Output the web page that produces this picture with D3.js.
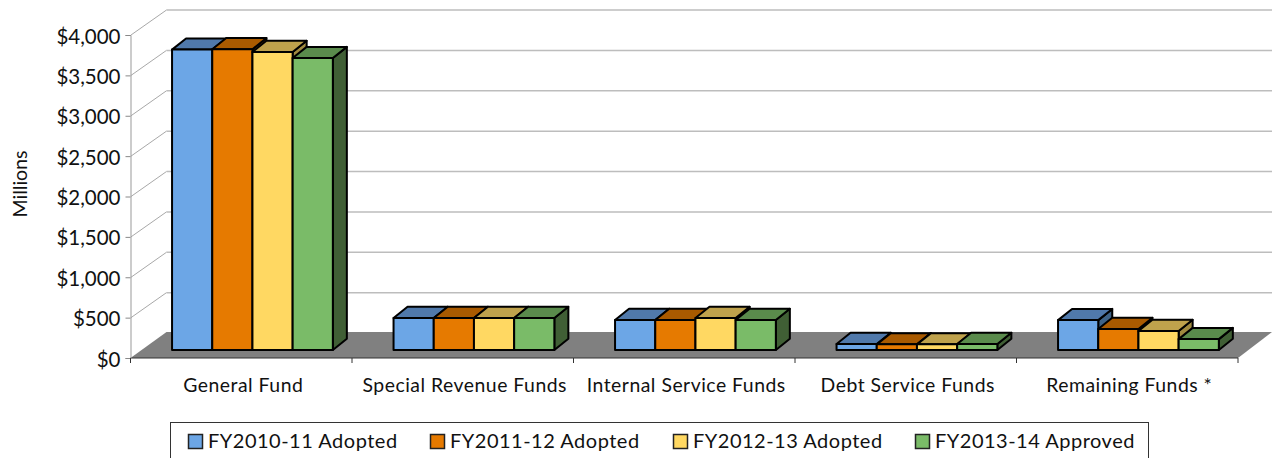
<!DOCTYPE html>
<html><head><meta charset="utf-8">
<script src="https://cdn.jsdelivr.net/npm/d3@7"></script>
<style>html,body{margin:0;background:#fff}svg{display:block}text{font-family:Lato,"Noto Sans",sans-serif;fill:#111}</style>
</head><body><svg id="c" width="1272" height="458"></svg>
<script>
const categories=["General Fund","Special Revenue Funds","Internal Service Funds","Debt Service Funds","Remaining Funds *"];
const seriesNames=["FY2010-11 Adopted","FY2011-12 Adopted","FY2012-13 Adopted","FY2013-14 Approved"];
const fy1011=[3720,396,372,75,370];
const fy1112=[3725,396,372,70,260];
const fy1213=[3690,396,396,70,235];
const fy1314=[3615,396,372,75,135];
const allSeries=[fy1011,fy1112,fy1213,fy1314];
const yTicks=[0,500,1000,1500,2000,2500,3000,3500,4000];
const frontColors=["#6ca6e6","#e67a00","#ffd862","#7abb68"];
const topColors=["#5079ab","#a95a00","#bfa24c","#5a8b4c"];
const sideColors=["#3f6387","#7f4400","#a08a3f","#405f35"];

const svg=d3.select("#c");
const y=d3.scaleLinear().domain([0,4000]).range([358,35]);
const x0=d3.scaleBand().domain(categories).range([130.5,1238]);
const wallDx=36,wallDy=-25;
const floorBackDy=-26;
const floorDx=11.2,floorDy=-8;
const barDx=14,barDy=-11.2;
const barW=40.2;
const x1=d3.scaleBand().domain(seriesNames).range([-2*barW,2*barW]);

// back wall gridlines and side wall diagonals
const grid=svg.append("g");
yTicks.filter(t=>t>0).forEach(t=>{
  grid.append("line").attr("x1",x0.range()[0]+0.5).attr("y1",y(t)).attr("x2",x0.range()[0]+wallDx).attr("y2",y(t)+wallDy).attr("stroke","#a8a8a8").attr("stroke-width",1);
  grid.append("line").attr("x1",x0.range()[0]+wallDx).attr("y1",y(t)+wallDy).attr("x2",1272).attr("y2",y(t)+wallDy).attr("stroke","#bdbdbd").attr("stroke-width",1.5);
});
// floor
const xl=x0.range()[0],xr=x0.range()[1],yb=y(0);
svg.append("path").attr("d",d3.line()([[xl,yb],[xl+wallDx,yb+floorBackDy],[1272,yb+floorBackDy],[xr,yb]])+"Z").attr("fill","#808080");
svg.append("line").attr("x1",xl).attr("x2",xr).attr("y1",yb).attr("y2",yb).attr("stroke","#333").attr("stroke-width",1.2);

// axes
const ay=d3.axisLeft(y).tickValues(yTicks).tickSize(5).tickPadding(5).tickFormat(d=>"$"+d3.format(",")(d));
const gy=svg.append("g").attr("transform",`translate(${xl},0)`).call(ay);
gy.select(".domain").attr("stroke","#999");
gy.selectAll(".tick line").attr("stroke","#888");
gy.selectAll("text").attr("font-size",20.5).attr("y",1.5).style("font-family","Lato,sans-serif").attr("fill","#111");

const ax=d3.axisBottom(x0).tickSize(0).tickPadding(20);
const gx=svg.append("g").attr("transform",`translate(0,${yb})`).call(ax);
gx.select(".domain").remove();
gx.selectAll("text").attr("font-size",19.4).style("font-family","Lato,sans-serif").attr("fill","#111").attr("dx",2).attr("letter-spacing",0.5);
gx.selectAll(".tick line").remove();
categories.concat(["__end"]).forEach((c,i)=>{
  const px=c==="__end"?xr:x0(c);
  gx.append("line").attr("x1",px).attr("x2",px).attr("y1",0).attr("y2",5).attr("stroke","#333");
});

svg.append("text").attr("transform","translate(27,184) rotate(-90)").attr("text-anchor","middle").attr("font-size",19.5).text("Millions");

// bars
const line=d3.line();
categories.forEach((c,ci)=>{
  const cx=x0(c)+x0.bandwidth()/2+floorDx;
  const g=svg.append("g");
  seriesNames.forEach((s,si)=>{
    const v=allSeries[si][ci];
    const bx=cx+x1(s), bw=x1.bandwidth(), by=y(v)+floorDy, base=y(0)+floorDy;
    const b=g.append("g").attr("stroke","#000").attr("stroke-width",2).attr("stroke-linejoin","round");
    b.append("path").attr("fill",sideColors[si]).attr("d",line([[bx+bw,by],[bx+bw+barDx,by+barDy],[bx+bw+barDx,base+barDy],[bx+bw,base]])+"Z");
    b.append("path").attr("fill",topColors[si]).attr("d",line([[bx,by],[bx+barDx,by+barDy],[bx+bw+barDx,by+barDy],[bx+bw,by]])+"Z");
    b.append("rect").attr("x",bx).attr("y",by).attr("width",bw).attr("height",base-by).attr("fill",frontColors[si]);
  });
});

// legend
const lg=svg.append("g");
lg.append("rect").attr("x",170.5).attr("y",422.5).attr("width",978).attr("height",50).attr("fill","#fff").attr("stroke","#333");
const legendX=d3.scalePoint().domain(seriesNames).range([188,915]);
seriesNames.forEach((s,i)=>{
  const lx=Math.round(legendX(s));
  lg.append("rect").attr("x",lx+.5).attr("y",434.5).attr("width",14).attr("height",14).attr("fill",frontColors[i]).attr("stroke","#222").attr("stroke-width",1.5);
  lg.append("text").attr("x",lx+20).attr("y",448).attr("font-size",20).attr("letter-spacing",0.5).text(s);
});
</script></body></html>
